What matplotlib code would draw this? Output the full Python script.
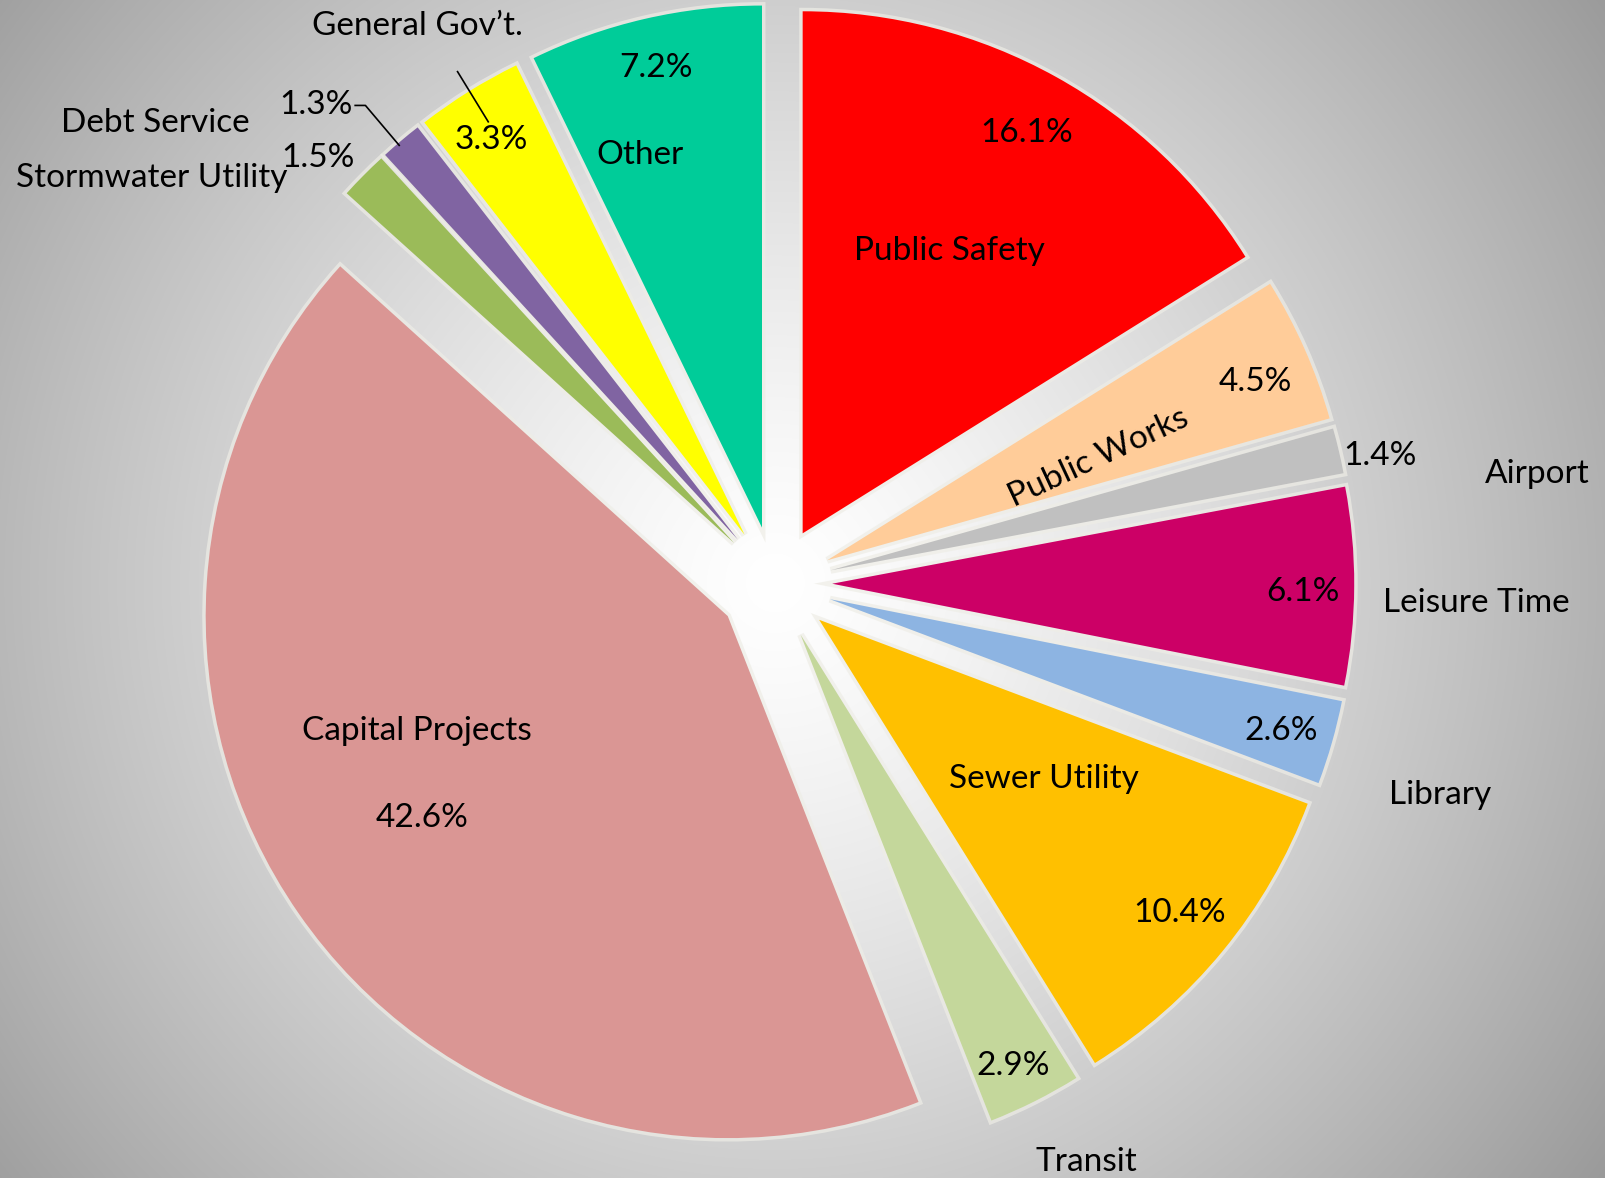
import matplotlib
matplotlib.use("Agg")
import matplotlib.pyplot as plt
import numpy as np

W, H = 1605, 1178
S = W / 1568.0

categories = ["Public Safety", "Public Works", "Airport", "Leisure Time", "Library",
              "Sewer Utility", "Transit", "Capital Projects", "Stormwater Utility",
              "Debt Service", "General Gov\u2019t.", "Other"]
shares = [16.1, 4.5, 1.4, 6.1, 2.6, 10.4, 2.9, 42.6, 1.5, 1.3, 3.3, 7.2]
colors = ["#FF0000", "#FFCC99", "#C0C0C0", "#CC0066", "#8DB4E2", "#FFC000",
          "#C4D79B", "#DA9694", "#9BBB59", "#8064A2", "#FFFF00", "#00CC99"]

# (name x, name y, pct x, pct y, name rotation)
label_pos = [
    (928, 245, 1003, 130, 0),
    (1073, 447, 1226, 373, 25),
    (1502, 463, 1348, 445, 0),
    (1442, 589, 1273, 578, 0),
    (1407, 777, 1252, 714, 0),
    (1020, 761, 1152, 892, 0),
    (1061, 1135, 990, 1041, 0),
    (407, 714, 412, 799, 0),
    (148, 174, 311, 154, 0),
    (152, 120, 309, 103, 0),
    (408, 25, 480, 137, 0),
    (625, 151, 641, 66, 0),
]

plt.rcParams['font.family'] = ['Lato', 'DejaVu Sans']

fig = plt.figure(figsize=(W / 100, H / 100), dpi=100)
ax = fig.add_axes([0, 0, 1, 1])

cx, cy = 757 * S, H - 570 * S
radius = 510 * S

# radial gray background
xx, yy = np.meshgrid(np.arange(W), np.arange(H))
r = np.hypot(xx - cx, yy - cy) / 970.0
g = 1 - 0.37 * np.clip(r, 0, 1.2) ** 1.3
ax.imshow(np.dstack([g, g, g]), extent=[0, W, 0, H], origin='lower', zorder=0)

explode = [56 * S] * len(shares)  # pie offsets in data units (pixels here)
# soft light halo behind slices
ax.pie(shares, colors=["#eeede6"] * len(shares), explode=explode, radius=radius,
       center=(cx, cy), startangle=90, counterclock=False,
       wedgeprops=dict(edgecolor="#eeede6", linewidth=5, alpha=0.7), frame=True)
ax.pie(shares, colors=colors, explode=explode, radius=radius,
       center=(cx, cy), startangle=90, counterclock=False,
       wedgeprops=dict(linewidth=0), frame=True)
ax.set_xlim(0, W)
ax.set_ylim(0, H)
ax.set_aspect('equal')
ax.axis('off')

fs = 24
for name, pct, (nx, ny, px, py, rot) in zip(categories, shares, label_pos):
    ax.text(nx * S, H - ny * S, name, ha='center', va='center', fontsize=fs,
            rotation=rot, color='black', zorder=5)
    ax.text(px * S, H - py * S, f"{pct:.1f}%", ha='center', va='center',
            fontsize=fs, color='black', zorder=5)

# leader lines
ax.plot([347 * S, 357 * S, 390 * S], [H - 103 * S, H - 103 * S, H - 142 * S],
        color='black', lw=1.2, zorder=5)
ax.plot([447 * S, 477 * S], [H - 70 * S, H - 119 * S], color='black', lw=1.2, zorder=5)

fig.savefig("out.png", dpi=100)
